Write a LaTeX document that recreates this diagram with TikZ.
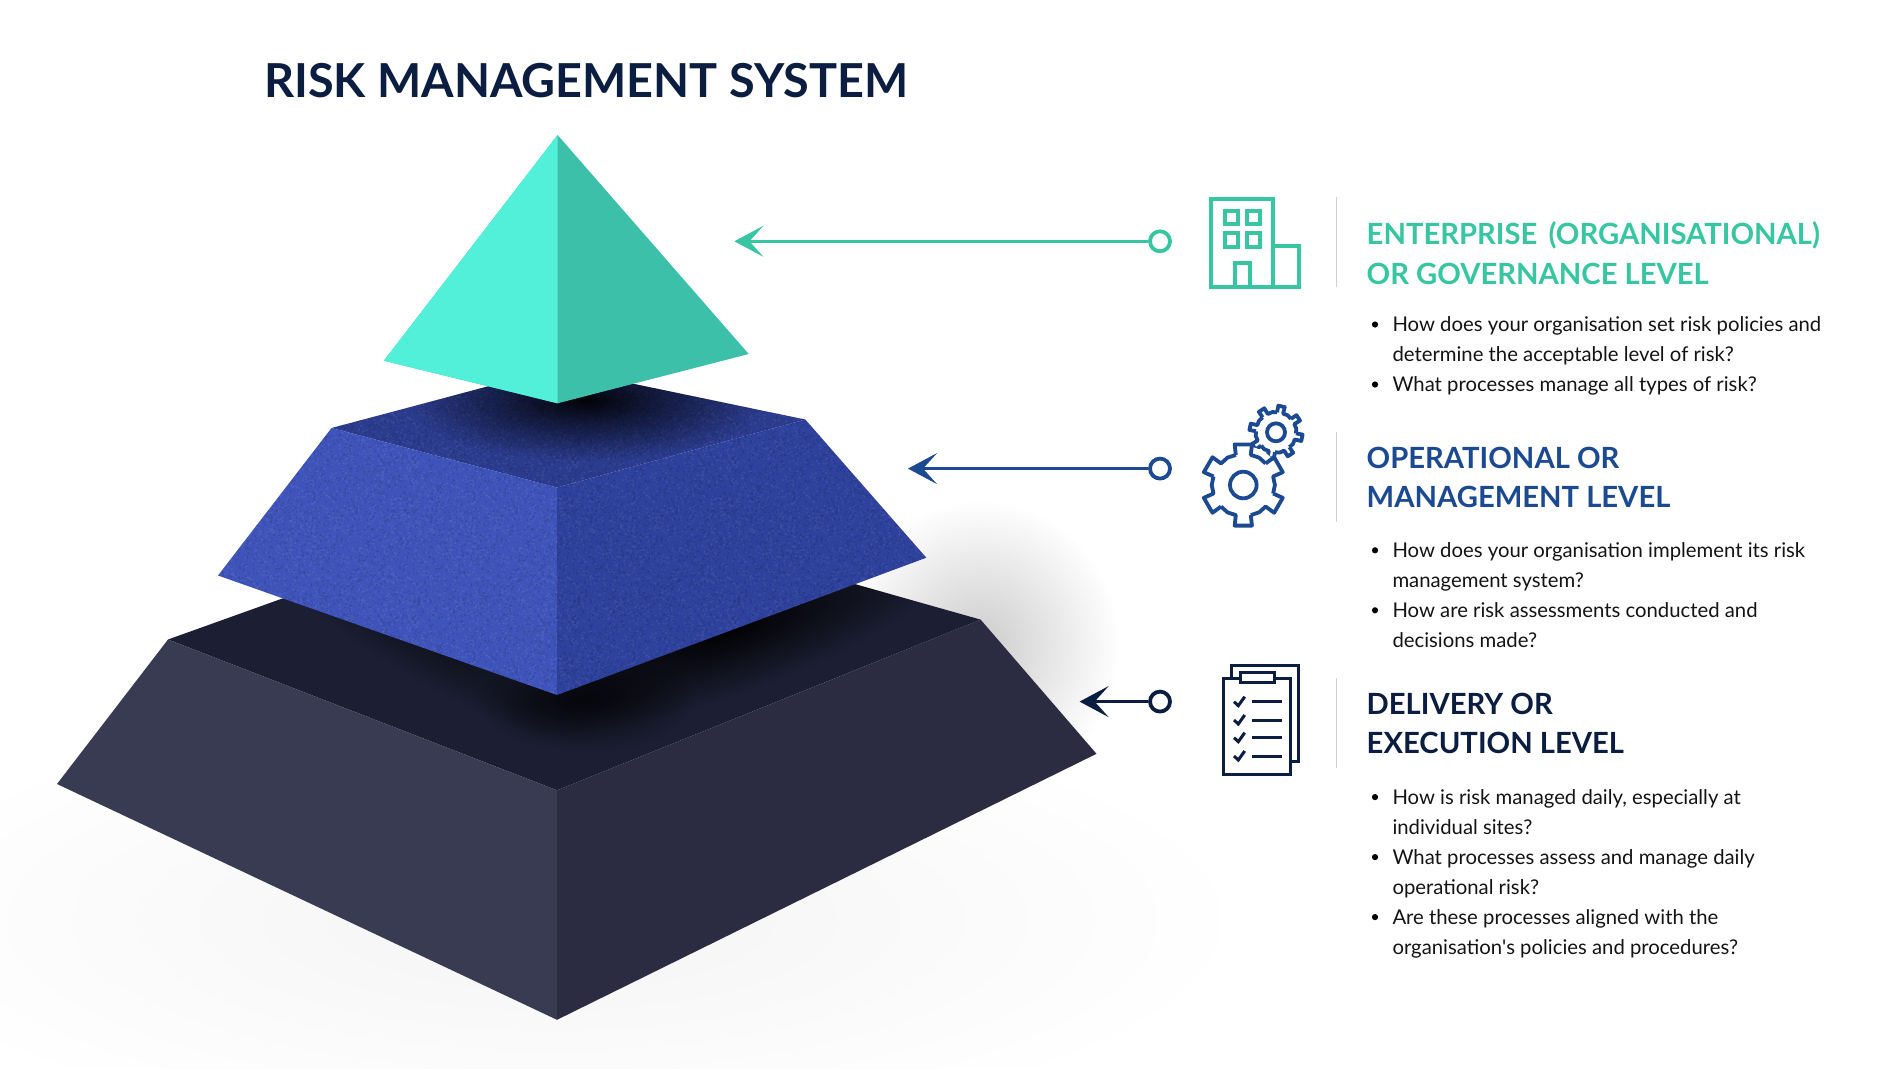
\documentclass[tikz,border=0pt]{standalone}
\usepackage{fontspec}
\setmainfont{Lato}
\usetikzlibrary{arrows.meta,fadings}
\definecolor{mintline}{HTML}{37C6A1}
\definecolor{blueline}{HTML}{1B4A92}
\definecolor{navyline}{HTML}{0B1D40}
\definecolor{rulegrey}{HTML}{CFCFCF}
\tikzfading[name=softblob, inner color=transparent!0, outer color=transparent!100]
\tikzset{
	headtext/.style={anchor=base west, inner sep=0pt, font=\fontsize{29.2}{31}\selectfont\bfseries},
	bodytext/.style={anchor=base west, inner sep=0pt, font=\fontsize{20.3}{25}\selectfont, text=black!92},
	ringdot/.style={circle, draw=#1, fill=white, line width=3.8pt, minimum size=20pt, inner sep=0pt},
	levelarrow/.style={draw=#1, line width=2.8pt, -{Stealth[length=29pt,width=31pt,inset=14pt,color=#1]}},
	sheetrule/.style={draw=rulegrey, line width=1.3pt},
	softshadow/.style={fill=black, path fading=softblob, opacity=#1},
}
% n teeth, rotation, root radius, outer radius, half width at root in degrees, style
\newcommand{\gearoutline}[6]{
	\pgfmathsetmacro{\stepa}{360/#1}
	\foreach \k in {1,...,#1}{
		\pgfmathsetmacro{\ang}{#2+\k*\stepa}
		\pgfmathsetmacro{\angm}{\ang+\stepa/2}
		\pgfmathsetmacro{\angn}{\ang+\stepa}
		\draw[#6] (\ang-#5:#3) -- (\ang-#5+2:#4) -- (\ang+#5-2:#4) -- (\ang+#5:#3) -- (\angm:#3+0.6) -- (\angn-#5:#3);
	}
}
\newcommand{\bodyline}[3]{\node[bodytext] (#1) at (1392.3,#2) {#3};}
\newcommand{\bulletdot}[1]{\fill[black] (1375,#1-7.4) circle (3.1);}
% grain of the middle level
\newsavebox{\graintile}
\pgfmathsetseed{7}
\sbox{\graintile}{\begin{tikzpicture}[x=1pt, y=1pt]
	\useasboundingbox (0,0) rectangle (160,160);
	\fill[white, opacity=0.07] foreach \k in {1,...,1400} {(160*rnd,160*rnd) rectangle ++(1.5,1.5)};
	\fill[black, opacity=0.12] foreach \k in {1,...,1400} {(160*rnd,160*rnd) rectangle ++(1.5,1.5)};
\end{tikzpicture}}
\begin{document}
\begin{tikzpicture}[x=1pt, y=-1pt, line join=round]
	\useasboundingbox (0,0) rectangle (1900,1068);
	\fill[white] (0,0) rectangle (1900,1068);
	% shadows on the page
	\fill[softshadow=0.045] (-150,700) rectangle (1250,1140);
	\fill[softshadow=0.2] (840,500) rectangle (1120,790);
	% bottom level
	\coordinate (dk) at (557,500);
	\coordinate (dtl) at (168,639.5);
	\coordinate (dtr) at (980.6,619.6);
	\coordinate (dft) at (557,790.3);
	\coordinate (dbl) at (57,784);
	\coordinate (dbr) at (1096.5,753.8);
	\coordinate (dbt) at (557,1019.8);
	\fill[color={rgb,255:red,28;green,31;blue,51}] (dk) -- (dtl) -- (dft) -- (dtr) -- cycle;
	\fill[color={rgb,255:red,57;green,59;blue,82}] (dtl) -- (dft) -- (dbt) -- (dbl) -- cycle;
	\fill[color={rgb,255:red,43;green,44;blue,65}] (dtr) -- (dft) -- (dbt) -- (dbr) -- cycle;
	\begin{scope}
		\clip (dk) -- (dtl) -- (dft) -- (dtr) -- cycle;
		\begin{scope}[transform canvas={rotate around={20:(730,632)}}]
			\fill[softshadow=0.9] (730,632) ellipse (240 and 62);
		\end{scope}
		\begin{scope}[transform canvas={rotate around={-30:(430,640)}}]
			\fill[softshadow=0.45] (430,640) ellipse (190 and 42);
		\end{scope}
		\fill[softshadow=0.7] (585,700) ellipse (110 and 52);
	\end{scope}
	% middle level
	\coordinate (bk) at (557,368);
	\coordinate (btl) at (331.5,428);
	\coordinate (btr) at (805.3,419.5);
	\coordinate (bft) at (557,487.5);
	\coordinate (bbl) at (218,575.5);
	\coordinate (bbr) at (926.3,557.7);
	\coordinate (bbt) at (557,695);
	\fill[color={rgb,255:red,43;green,60;blue,143}] (bk) -- (btl) -- (bft) -- (btr) -- cycle;
	\fill[color={rgb,255:red,63;green,84;blue,186}] (btl) -- (bft) -- (bbt) -- (bbl) -- cycle;
	\fill[color={rgb,255:red,46;green,65;blue,156}] (btr) -- (bft) -- (bbt) -- (bbr) -- cycle;
	\begin{scope}
		\clip (bk) -- (btr) -- (bbr) -- (bbt) -- (bbl) -- (btl) -- cycle;
		\foreach \i in {0,...,4}
			\foreach \j in {0,...,2}
				\node[anchor=north west, inner sep=0pt] (grain\i\j) at (200+160*\i,360+160*\j) {\usebox{\graintile}};
	\end{scope}
	\begin{scope}
		\clip (bk) -- (btl) -- (bft) -- (btr) -- cycle;
		\fill[softshadow=0.95] (585,400) ellipse (180 and 62);
	\end{scope}
	% top level
	\coordinate (gap) at (557.6,135);
	\coordinate (gl) at (383.9,360.7);
	\coordinate (gr) at (748.7,354);
	\coordinate (gbt) at (557.6,403.3);
	\fill[color={rgb,255:red,60;green,192;blue,170}] (gap) -- (gl) -- (gbt) -- (gr) -- cycle;
	\fill[color={rgb,255:red,82;green,239;blue,217}] (gap) -- (gl) -- (gbt) -- cycle;
	% title
	\node[anchor=base west, inner sep=0pt, font=\fontsize{46.8}{50}\selectfont\bfseries, text=navyline] (title) at (264,97.7) {RISK MANAGEMENT SYSTEM};
	% arrows
	\coordinate (tipa) at (734.4,241.3);
	\coordinate (tipb) at (908,468.6);
	\coordinate (tipc) at (1079.6,701.6);
	\node[ringdot=mintline] (ringa) at (1160,241.3) {};
	\node[ringdot=blueline] (ringb) at (1160,468.6) {};
	\node[ringdot=navyline] (ringc) at (1160,701.6) {};
	\draw[levelarrow=mintline] (ringa) -- (tipa);
	\draw[levelarrow=blueline] (ringb) -- (tipb);
	\draw[levelarrow=navyline] (ringc) -- (tipc);
	% building
	\begin{scope}[draw=mintline, line width=4pt, line join=miter]
		\draw (1273.3,286.7) -- (1211,286.7) -- (1211,198.7) -- (1273.3,198.7) -- cycle;
		\draw (1273.3,246) -- (1298.7,246) -- (1298.7,286.7) -- (1273.3,286.7);
		\draw (1225,211) rectangle (1238.3,224.3);
		\draw (1246.7,211) rectangle (1260,224.3);
		\draw (1225,233.3) rectangle (1238.3,246.7);
		\draw (1246.7,233.3) rectangle (1260,246.7);
		\draw (1235,286.7) -- (1235,263.3) -- (1250,263.3) -- (1250,286.7);
	\end{scope}
	% gears
	\begin{scope}[shift={(1276,432.3)}]
		\gearoutline{8}{12}{20}{26.7}{9}{draw=blueline, line width=3.8pt}
		\draw[blueline, line width=3.8pt] (0,0) circle (9);
	\end{scope}
	\begin{scope}[shift={(1243.3,485)}]
		\fill[white] (0,0) circle (39);
		\gearoutline{6}{30}{31}{41.5}{14}{draw=blueline, line width=3.8pt}
		\draw[blueline, line width=3.8pt] (0,0) circle (13.3);
	\end{scope}
	% clipboard
	\begin{scope}[draw=navyline, line width=3pt, line join=miter]
		\draw (1231.7,678) -- (1231.7,665.7) -- (1298.3,665.7) -- (1298.3,761) -- (1290,761);
		\draw (1223.3,678.3) rectangle (1290,774);
		\draw[fill=white] (1240,672) rectangle (1274,682.7);
		\foreach \y in {701.7,720,737.7,756}{
			\draw (1251.7,\y) -- (1281.7,\y);
			\draw (1234,\y) -- ++(4.3,4) -- ++(6.4,-9);
		}
	\end{scope}
	% separators
	\coordinate (rulea) at (1336.7,196.7);
	\coordinate (ruleb) at (1336.7,431.7);
	\coordinate (rulec) at (1336.7,678);
	\draw[sheetrule] (rulea) -- ++(0,90);
	\draw[sheetrule] (ruleb) -- ++(0,90);
	\draw[sheetrule] (rulec) -- ++(0,90);
	% enterprise level
	\node[headtext, text=mintline] (heada) at (1366.5,244.3) {ENTERPRISE\hspace{4pt} (ORGANISATIONAL)};
	\node[headtext, text=mintline] (headaa) at (1366.5,284.3) {OR GOVERNANCE LEVEL};
	\bodyline{la}{331.9}{How does your organisation set risk policies and}
	\bodyline{lb}{361.9}{determine the acceptable level of risk?}
	\bodyline{lc}{391.9}{What processes manage all types of risk?}
	\bulletdot{331.9} \bulletdot{391.9}
	% operational level
	\node[headtext, text=blueline] (headb) at (1366.5,468.5) {OPERATIONAL OR};
	\node[headtext, text=blueline] (headbb) at (1366.5,507.3) {MANAGEMENT LEVEL};
	\bodyline{ld}{557.7}{How does your organisation implement its risk}
	\bodyline{le}{587.7}{management system?}
	\bodyline{lf}{617.7}{How are risk assessments conducted and}
	\bodyline{lg}{647.7}{decisions made?}
	\bulletdot{557.7} \bulletdot{617.7}
	% delivery level
	\node[headtext, text=navyline] (headc) at (1366.5,714.5) {DELIVERY OR};
	\node[headtext, text=navyline] (headcc) at (1366.5,753.5) {EXECUTION LEVEL};
	\bodyline{lh}{804.5}{How is risk managed daily, especially at}
	\bodyline{li}{834.5}{individual sites?}
	\bodyline{lj}{864.5}{What processes assess and manage daily}
	\bodyline{lk}{894.5}{operational risk?}
	\bodyline{ll}{924.5}{Are these processes aligned with the}
	\bodyline{lm}{954.5}{organisation\textquotesingle s policies and procedures?}
	\bulletdot{804.5} \bulletdot{864.5} \bulletdot{924.5}
\end{tikzpicture}
\end{document}
